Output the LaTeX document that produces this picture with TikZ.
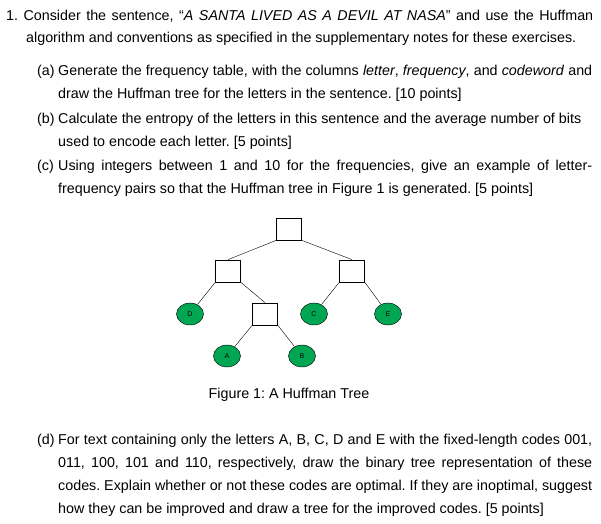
\documentclass[tikz,border=0pt]{standalone}
\usepackage{fontspec}
\usetikzlibrary{shapes.geometric}
\setmainfont{Liberation Sans}
\definecolor{leafgreen}{RGB}{0,166,81}
\frenchspacing
\begin{document}
\begin{tikzpicture}[x=1pt,y=-1pt,
  txt/.style={anchor=base west,inner sep=0pt,font=\fontsize{14.3}{16}\selectfont},
  sq/.style={draw,thick,fill=white,minimum width=25pt,minimum height=22pt,inner sep=0pt},
  leaf/.style={draw,fill=leafgreen,ellipse,minimum width=27pt,minimum height=22pt,inner sep=0pt,font=\fontsize{7}{8}\selectfont}]
\useasboundingbox (0,0) rectangle (601,523);
\newcommand{\jl}[1]{\hbox to 534pt{#1}}
% item 1
\node[txt] (l1) at (6,20) {\hbox to 587pt{1.\ Consider the sentence, “\textit{A SANTA LIVED AS A DEVIL AT NASA}” and use the Huffman}};
\node[txt] (l2) at (26,42) {algorithm and conventions as specified in the supplementary notes for these exercises.};
% (a)
\node[txt] (a0) at (37,75) {(a)};
\node[txt] (a1) at (58,75) {\jl{Generate the frequency table, with the columns \textit{letter}, \textit{frequency}, and \textit{codeword} and}};
\node[txt] (a2) at (58,98) {draw the Huffman tree for the letters in the sentence. [10 points]};
% (b)
\node[txt] (b0) at (37,123) {(b)};
\node[txt] (b1) at (58,123) {Calculate the entropy of the letters in this sentence and the average number of bits};
\node[txt] (b2) at (58,146) {used to encode each letter. [5 points]};
% (c)
\node[txt] (c0) at (37,170) {(c)};
\node[txt] (c1) at (58,170) {\jl{Using integers between 1 and 10 for the frequencies, give an example of letter-}};
\node[txt] (c2) at (58,193) {frequency pairs so that the Huffman tree in Figure 1 is generated. [5 points]};
% tree
\node[sq] (r) at (289,229) {};
\node[sq] (L) at (228,271) {};
\node[sq] (R) at (352,271) {};
\node[sq] (M) at (265,314) {};
\node[leaf] (D) at (190,314) {D};
\node[leaf] (C) at (314,314) {C};
\node[leaf] (E) at (388,314) {E};
\node[leaf] (A) at (227,356) {A};
\node[leaf] (B) at (302,356) {B};
\draw (r.south west) -- (L.north);
\draw (r.south east) -- (R.north);
\draw (L.south west) -- (D);
\draw (L.south east) -- (M.north);
\draw (R.south west) -- (C);
\draw (R.south east) -- (E);
\draw (M.south west) -- (A);
\draw (M.south east) -- (B);
\node[txt,anchor=base] (cap) at (289,398) {Figure 1: A Huffman Tree};
% (d)
\node[txt] (d0) at (37,444) {(d)};
\node[txt] (d1) at (58,444) {\jl{For text containing only the letters A, B, C, D and E with the fixed-length codes 001,}};
\node[txt] (d2) at (58,467) {\jl{011, 100, 101 and 110, respectively, draw the binary tree representation of these}};
\node[txt] (d3) at (58,490) {\jl{codes. Explain whether or not these codes are optimal. If they are inoptimal, suggest}};
\node[txt] (d4) at (58,513) {how they can be improved and draw a tree for the improved codes. [5 points]};
\end{tikzpicture}
\end{document}
